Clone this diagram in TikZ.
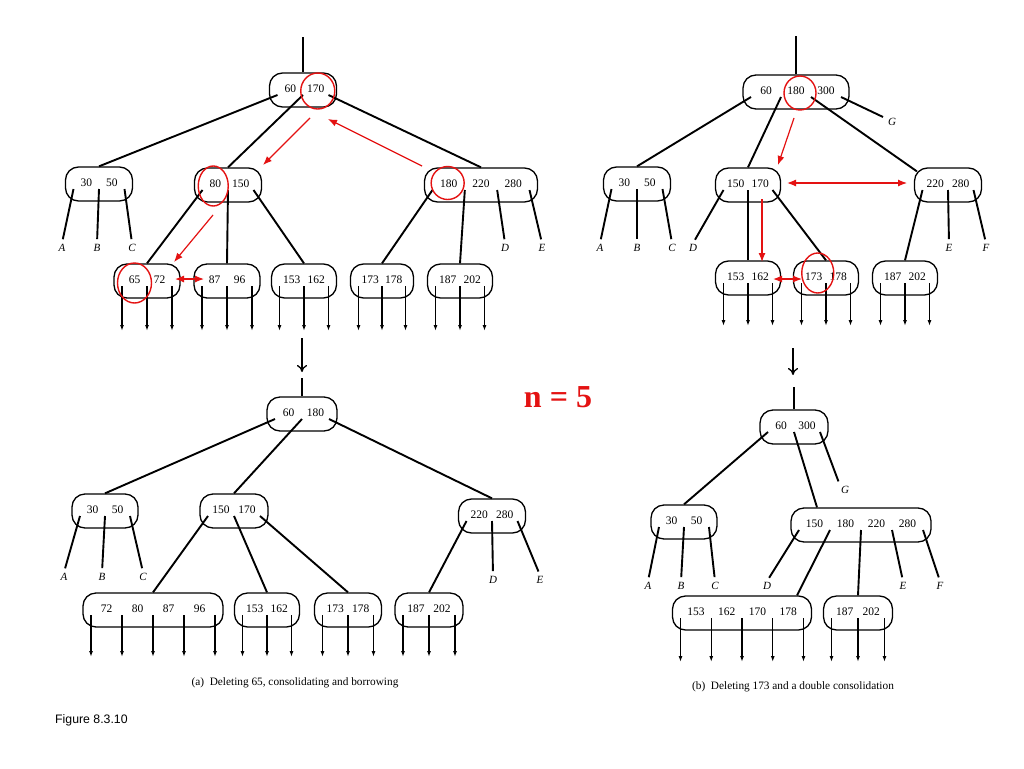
\documentclass[tikz,border=0pt]{standalone}
\usepackage{fontspec}
\setmainfont{Liberation Serif}
\setsansfont{Liberation Sans}
\usetikzlibrary{calc,arrows.meta}
\definecolor{redmark}{RGB}{228,18,18}
\tikzset{
  bbox/.style={draw, line width=1.3pt, rounded corners=13pt, minimum height=34pt, inner sep=0pt},
  keytxt/.style={font=\fontsize{11.5}{12}\selectfont, inner sep=0pt},
  edge/.style={line width=1.9pt},
  lbledge/.style={line width=1.9pt, shorten >=4pt},
  ptr/.style={line width=1.2pt, -{Latex[length=6pt,width=4pt]}},
  lbl/.style={font=\fontsize{11}{12}\selectfont\itshape, inner sep=1pt},
  hl/.style={draw=redmark, line width=1.4pt},
  rarr/.style={draw=redmark, line width=1.2pt, -{Latex[length=9pt,width=7pt]}},
  rdarr/.style={draw=redmark, line width=1.2pt, {Latex[length=9pt,width=7pt]}-{Latex[length=9pt,width=7pt]}},
  downarr/.style={line width=1.3pt, -{To[length=7pt,width=10pt]}},
  capt/.style={font=\fontsize{11.3}{13}\selectfont, inner sep=0pt},
}
\newcommand{\btnode}[4]{%
  \node[bbox, minimum width=#3pt] (#1) at (#2) {};
  \foreach \kk [count=\ii] in {#4} {\xdef\bnk{\ii}}
  \pgfmathsetmacro\bsp{#3-16}
  \pgfmathsetmacro\bst{\bsp/\bnk}
  \foreach \j in {0,...,\bnk} {\coordinate (#1-p\j) at ($(#1.center)+({-\bsp/2+\j*\bst},5)$);}
  \foreach \kk [count=\ii] in {#4} {\node[keytxt] (#1-k\ii) at ($(#1.center)+({-\bsp/2+(\ii-0.5)*\bst},-1)$) {\kk};}
}
\newcommand{\leafptrs}[3]{%
  \foreach \j in {0,...,#2} {\draw[ptr] (#1-p\j) -- ++(0,#3);}
}
\begin{document}
\begin{tikzpicture}[x=1pt,y=-1pt]
\fill[white] (0,0) rectangle (1024,768);
\useasboundingbox (0,0) rectangle (1024,768);

% ================= (a) top =================
\btnode{tlr}{303,90}{67}{60,170}
\draw[edge] (tlr.north) -- ++(0,-35);
\btnode{tla}{99,184}{67}{30,50}
\btnode{tlb}{228,185}{67}{80,150}
\btnode{tlc}{481,185}{113}{180,220,280}
\draw[edge] (tlr-p0) -- (tla.north);
\draw[edge] (tlr-p1) -- (tlb.north);
\draw[edge] (tlr-p2) -- (tlc.north);
\node[lbl] (tlA) at (62,248) {A};
\node[lbl] (tlB) at (97,248) {B};
\node[lbl] (tlC) at (132,248) {C};
\node[lbl] (tlD) at (505,248) {D};
\node[lbl] (tlE) at (542,248) {E};
\draw[lbledge] (tla-p0) -- (tlA.north);
\draw[lbledge] (tla-p1) -- (tlB.north);
\draw[lbledge] (tla-p2) -- (tlC.north);
\draw[lbledge] (tlc-p2) -- (tlD.north);
\draw[lbledge] (tlc-p3) -- (tlE.north);
\btnode{tl1}{147,281}{66}{65,72}
\btnode{tl2}{227,281}{66}{87,96}
\btnode{tl3}{304,281}{65}{153,162}
\btnode{tl4}{382,281}{63}{173,178}
\btnode{tl5}{460,281}{65}{187,202}
\draw[edge] (tlb-p0) -- (tl1.north);
\draw[edge] (tlb-p1) -- (tl2.north);
\draw[edge] (tlb-p2) -- (tl3.north);
\draw[edge] (tlc-p0) -- (tl4.north);
\draw[edge] (tlc-p1) -- (tl5.north);
\leafptrs{tl1}{2}{45}
\leafptrs{tl2}{2}{45}
\leafptrs{tl3}{2}{45}
\leafptrs{tl4}{2}{45}
\leafptrs{tl5}{2}{45}
% red marks (a)
\draw[hl] ($(tlr-k2)+(2,2)$) ellipse [x radius=17pt, y radius=18pt];
\draw[hl] ($(tlb-k1)+(-2,2)$) ellipse [x radius=15pt, y radius=20pt];
\draw[hl] ($(tlc-k1)+(-1,-1)$) ellipse [x radius=16.5pt, y radius=16.5pt];
\draw[hl] ($(tl1-k1)+(0,3)$) ellipse [x radius=17pt, y radius=20pt];
\coordinate (ra1s) at (310,118); \coordinate (ra1e) at (263,165);
\coordinate (ra2s) at (422,166); \coordinate (ra2e) at (328,119);
\coordinate (ra3s) at (213,215); \coordinate (ra3e) at (174,262);
\coordinate (ra4s) at (175,279); \coordinate (ra4e) at (204,279);
\draw[rarr] (ra1s) -- (ra1e);
\draw[rarr] (ra2s) -- (ra2e);
\draw[rarr] (ra3s) -- (ra3e);
\draw[rdarr] (ra4s) -- (ra4e);

% ================= (b) top =================
\btnode{trr}{796,92}{106}{60,180,300}
\draw[edge] (trr.north) -- ++(0,-38);
\btnode{tra}{637,184}{67}{30,50}
\btnode{trb}{748,185}{65}{150,170}
\btnode{trc}{948,185}{67}{220,280}
\node[lbl] (trG) at (892,122) {G};
\draw[edge] (trr-p0) -- (tra.north);
\draw[edge] (trr-p1) -- (trb.north);
\draw[edge] (trr-p2) -- ($(trc.north west)+(3,4)$);
\draw[edge] (trr-p3) -- ($(trG)+(-9,-5)$);
\node[lbl] (trA) at (600,248) {A};
\node[lbl] (trB) at (637,248) {B};
\node[lbl] (trC) at (672,248) {C};
\node[lbl] (trD) at (693,248) {D};
\node[lbl] (trE) at (949,248) {E};
\node[lbl] (trF) at (986,248) {F};
\draw[lbledge] (tra-p0) -- (trA.north);
\draw[lbledge] (tra-p1) -- (trB.north);
\draw[lbledge] (tra-p2) -- (trC.north);
\draw[lbledge] (trb-p0) -- (trD.north);
\draw[lbledge] (trc-p1) -- (trE.north);
\draw[lbledge] (trc-p2) -- (trF.north);
\btnode{tr1}{748,278}{65}{153,162}
\btnode{tr2}{826,278}{65}{173,178}
\btnode{tr3}{905,278}{65}{187,202}
\draw[edge] (trb-p1) -- (tr1.north);
\draw[edge] (trb-p2) -- (tr2.north);
\draw[edge] (trc-p0) -- (tr3.north);
\leafptrs{tr1}{2}{43}
\leafptrs{tr2}{2}{43}
\leafptrs{tr3}{2}{43}
% red marks (b)
\draw[hl] ($(trr-k2)+(4,2)$) ellipse [x radius=16pt, y radius=17pt];
\draw[hl] ($(tr2-k1)+(4,-4)$) ellipse [x radius=16pt, y radius=20pt];
\coordinate (rb1s) at (794,118); \coordinate (rb1e) at (778,165);
\coordinate (rb2s) at (787,183); \coordinate (rb2e) at (907,183);
\coordinate (rb3s) at (762,199); \coordinate (rb3e) at (762,262);
\coordinate (rb4s) at (773,279); \coordinate (rb4e) at (802,279);
\draw[rarr] (rb1s) -- (rb1e);
\draw[rdarr] (rb2s) -- (rb2e);
\draw[rarr] (rb3s) -- (rb3e);
\draw[rdarr] (rb4s) -- (rb4e);

% ================= (a) bottom =================
\coordinate (bldas) at (302,338); \coordinate (bldae) at (302,372);
\draw[downarr] (bldas) -- (bldae);
\btnode{blr}{302,414}{70}{60,180}
\draw[edge] (blr.north) -- ++(0,-18);
\btnode{bla}{105,511}{66}{30,50}
\btnode{blb}{234,511}{68}{150,170}
\btnode{blc}{492,516}{67}{220,280}
\draw[edge] (blr-p0) -- (bla.north);
\draw[edge] (blr-p1) -- (blb.north);
\draw[edge] (blr-p2) -- (blc.north);
\node[lbl] (blA) at (64,577) {A};
\node[lbl] (blB) at (102,577) {B};
\node[lbl] (blC) at (143,577) {C};
\node[lbl] (blD) at (493,580) {D};
\node[lbl] (blE) at (540,580) {E};
\draw[lbledge] (bla-p0) -- (blA.north);
\draw[lbledge] (bla-p1) -- (blB.north);
\draw[lbledge] (bla-p2) -- (blC.north);
\draw[lbledge] (blc-p1) -- (blD.north);
\draw[lbledge] (blc-p2) -- (blE.north);
\btnode{bl1}{153,610}{140}{72,80,87,96}
\btnode{bl2}{267,610}{65}{153,162}
\btnode{bl3}{348,610}{67}{173,178}
\btnode{bl4}{429,610}{68}{187,202}
\draw[edge] (blb-p0) -- (bl1.north);
\draw[edge] (blb-p1) -- (bl2.north);
\draw[edge] (blb-p2) -- (bl3.north);
\draw[edge] (blc-p0) -- (bl4.north);
\leafptrs{bl1}{4}{42}
\leafptrs{bl2}{2}{42}
\leafptrs{bl3}{2}{42}
\leafptrs{bl4}{2}{42}
\node[capt] (capa) at (295,683) {(a)\enspace Deleting 65, consolidating and borrowing};

% ================= (b) bottom =================
\coordinate (brdas) at (793,348); \coordinate (brdae) at (793,375);
\draw[downarr] (brdas) -- (brdae);
\btnode{brr}{794,427}{68}{60,300}
\draw[edge] (brr.north) -- ++(0,-22);
\btnode{bra}{684,522}{66}{30,50}
\btnode{brb}{861,525}{140}{150,180,220,280}
\node[lbl] (brG) at (845,490) {G};
\draw[edge] (brr-p0) -- (bra.north);
\draw[edge] (brr-p1) -- ($(brb.north)+(-44,0)$);
\draw[lbledge] (brr-p2) -- (brG.north west);
\node[lbl] (brA) at (648,586) {A};
\node[lbl] (brB) at (681,586) {B};
\node[lbl] (brC) at (715,586) {C};
\node[lbl] (brD) at (767,586) {D};
\node[lbl] (brE) at (903,586) {E};
\node[lbl] (brF) at (940,586) {F};
\draw[lbledge] (bra-p0) -- (brA.north);
\draw[lbledge] (bra-p1) -- (brB.north);
\draw[lbledge] (bra-p2) -- (brC.north);
\draw[lbledge] (brb-p0) -- (brD.north);
\draw[lbledge] (brb-p3) -- (brE.north);
\draw[lbledge] (brb-p4) -- (brF.north);
\btnode{br1}{742,613}{139}{153,162,170,178}
\btnode{br2}{858,613}{69}{187,202}
\draw[edge] (brb-p1) -- ($(br1.north)+(55,0)$);
\draw[edge] (brb-p2) -- (br2.north);
\leafptrs{br1}{4}{44}
\leafptrs{br2}{2}{44}
\node[capt] (capb) at (793,687) {(b)\enspace Deleting 173 and a double consolidation};

% ================= texts =================
\node[font=\fontsize{32}{34}\selectfont\bfseries, text=redmark, inner sep=0pt] (nlabel) at (558,397) {n = 5};
\node[anchor=west, font=\sffamily\fontsize{12.3}{14}\selectfont, inner sep=0pt] (fig) at (55,720) {Figure 8.3.10};
\end{tikzpicture}
\end{document}
